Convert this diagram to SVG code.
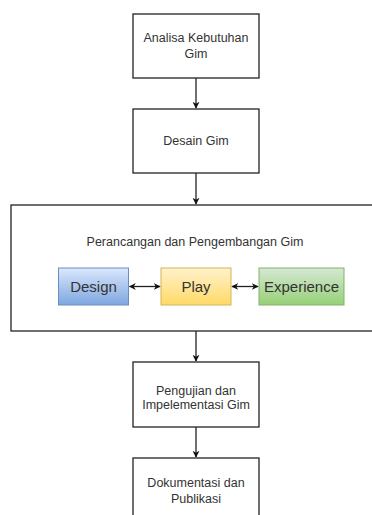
<svg xmlns="http://www.w3.org/2000/svg" width="372" height="515" viewBox="0 0 372 515">
<defs>
<style>
.box{fill:#fff;stroke:#222;stroke-width:1.3}
.t{font-family:"Liberation Sans",Arial,sans-serif;font-size:12.5px;fill:#333;text-anchor:middle}
.tl{font-family:"Liberation Sans",Arial,sans-serif;font-size:15px;fill:#333;text-anchor:middle}
.c{stroke:#222;stroke-width:1.3;fill:none}
</style>
<linearGradient id="gb" x1="0" y1="0" x2="0" y2="1"><stop offset="0" stop-color="#dae8fc"/><stop offset="1" stop-color="#7ea6e0"/></linearGradient>
<linearGradient id="gy" x1="0" y1="0" x2="0" y2="1"><stop offset="0" stop-color="#fff2cc"/><stop offset="1" stop-color="#ffd966"/></linearGradient>
<linearGradient id="gg" x1="0" y1="0" x2="0" y2="1"><stop offset="0" stop-color="#d5e8d4"/><stop offset="1" stop-color="#97d077"/></linearGradient>
<marker id="ah" viewBox="0 0 10 10" refX="9" refY="5" markerWidth="7" markerHeight="7" orient="auto-start-reverse" markerUnits="userSpaceOnUse"><path d="M0,0 L10,5 L0,10 L3,5 Z" fill="#111"/></marker>
</defs>
<g id="n1"><rect class="box" x="133" y="14" width="126" height="64"/><text class="t" x="196" y="42">Analisa Kebutuhan</text><text class="t" x="196" y="58">Gim</text></g>
<g id="n2"><rect class="box" x="133" y="109" width="126" height="64"/><text class="t" x="196" y="145">Desain Gim</text></g>
<g id="n3"><rect class="box" x="11" y="205" width="370" height="126"/><text class="t" x="195" y="246">Perancangan dan Pengembangan Gim</text></g>
<g id="design"><rect x="58.5" y="268" width="70" height="37" fill="url(#gb)" stroke="#6c8ebf"/><text class="tl" x="93.5" y="292">Design</text></g>
<g id="play"><rect x="161" y="268" width="70" height="37" fill="url(#gy)" stroke="#d6b656"/><text class="tl" x="196" y="292">Play</text></g>
<g id="experience"><rect x="259" y="268" width="85" height="37" fill="url(#gg)" stroke="#82b366"/><text class="tl" x="301.5" y="292">Experience</text></g>
<g id="n4"><rect class="box" x="133" y="362" width="126" height="65"/><text class="t" x="196" y="395">Pengujian dan</text><text class="t" x="196" y="409">Impelementasi Gim</text></g>
<g id="n5"><rect class="box" x="133" y="458" width="126" height="70"/><text class="t" x="196" y="487">Dokumentasi dan</text><text class="t" x="196" y="503">Publikasi</text></g>
<g id="connectors">
<line class="c" x1="196" y1="78" x2="196" y2="108" marker-end="url(#ah)"/>
<line class="c" x1="196" y1="173" x2="196" y2="204" marker-end="url(#ah)"/>
<line class="c" x1="196" y1="331" x2="196" y2="361" marker-end="url(#ah)"/>
<line class="c" x1="196" y1="427" x2="196" y2="457" marker-end="url(#ah)"/>
<line class="c" x1="129.5" y1="286.5" x2="160" y2="286.5" marker-start="url(#ah)" marker-end="url(#ah)"/>
<line class="c" x1="232" y1="286.5" x2="258" y2="286.5" marker-start="url(#ah)" marker-end="url(#ah)"/>
</g>
</svg>
